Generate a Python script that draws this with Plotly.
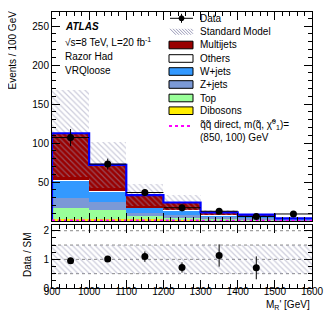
import plotly.graph_objects as go

# ---------------- data ----------------
bin_lo = [900, 1000, 1100, 1200, 1300, 1400, 1500]
bin_hi = [1000, 1100, 1200, 1300, 1400, 1500, 1600]
multijets = [60.0, 34.0, 16.0, 10.0, 3.3, 1.2, 0.3]
others = [0.5, 0.4, 0.3, 0.2, 0.1, 0.1, 0.05]
wjets = [22.5, 13.0, 7.0, 6.3, 2.2, 2.3, 1.0]
zjets = [13.0, 10.0, 3.0, 3.0, 2.1, 2.0, 1.0]
top = [14.0, 12.0, 5.0, 2.7, 2.1, 1.5, 0.6]
dibosons = [2.5, 2.5, 2.0, 1.5, 1.2, 1.0, 0.5]
sm_err = [55.5, 30.0, 14.7, 9.3, 3.0, 1.4, 1.0]
data = [107.0, 73.0, 36.5, 17.0, 12.5, 5.7, 9.0]
data_err = [11.0, 7.0, 4.5, 4.5, 3.5, 2.5, 3.0]
ratio_err = [0.10, 0.10, 0.18, 0.18, 0.39, 0.40, 0.40]
signal = [0.8, 0.7, 0.6, 0.5, 0.4, 0.3, 0.3]
ratio_band = [0.5] * 7
xticks = [900, 1000, 1100, 1200, 1300, 1400, 1500, 1600]

centers = [(a + b) / 2 for a, b in zip(bin_lo, bin_hi)]
widths = [b - a for a, b in zip(bin_lo, bin_hi)]

FONT = "Liberation Sans, Arial, Helvetica, sans-serif"
OFF = 8  # page body margin
W, H = 332 - OFF, 319 - OFF
L, T = 52 - OFF, 12 - OFF
R = W - (312 - OFF)
B = H - (288 - OFF)
PW, PH = W - L - R, H - T - B


def px(x):
    return (x - OFF - L) / PW


def py(y):
    return (H - B - (y - OFF)) / PH


fig = go.Figure()

# stacked components: bottom -> top
stack = [
    ("Dibosons", dibosons, "#ffee00"),
    ("Top", top, "#99ff99"),
    ("Z+jets", zjets, "#7b99d6"),
    ("W+jets", wjets, "#3399ff"),
    ("Others", others, "#ffffff"),
    ("Multijets", multijets, "#990000"),
]
cum = [0.0] * 7
for name, vals, col in stack:
    fig.add_trace(go.Bar(x=centers, y=vals, base=list(cum), width=widths,
                         marker=dict(color=col, line=dict(width=0)),
                         name=name, showlegend=False, xaxis="x", yaxis="y"))
    cum = [c + v for c, v in zip(cum, vals)]
sm = cum

hatch = dict(shape="\\", fgcolor="#9a9ab8", bgcolor="rgba(0,0,0,0)", size=4,
             solidity=0.3, fillmode="overlay")

# hatched SM uncertainty
fig.add_trace(go.Bar(x=centers, y=[2 * e for e in sm_err],
                     base=[s - e for s, e in zip(sm, sm_err)], width=widths,
                     marker=dict(color="rgba(0,0,0,0)", line=dict(width=0), pattern=hatch),
                     showlegend=False, xaxis="x", yaxis="y"))

# SM outline
step_x = [bin_lo[0]] + bin_lo + [bin_hi[-1]]
step_y = [0.0] + sm + [sm[-1]]
fig.add_trace(go.Scatter(x=step_x, y=step_y, mode="lines", line_shape="hv",
                         line=dict(color="#0000ff", width=2.2),
                         showlegend=False, xaxis="x", yaxis="y"))

# signal
fig.add_trace(go.Scatter(x=bin_lo + [bin_hi[-1]],
                         y=signal + [signal[-1]], mode="lines", line_shape="hv",
                         line=dict(color="#ff00ff", width=2, dash="dot"),
                         showlegend=False, xaxis="x", yaxis="y"))

# data
fig.add_trace(go.Scatter(x=centers, y=data, mode="markers",
                         marker=dict(color="black", size=7),
                         error_x=dict(type="data", array=[w / 2 for w in widths],
                                      color="black", width=0, thickness=1),
                         error_y=dict(type="data", array=data_err, color="black",
                                      width=0, thickness=1),
                         showlegend=False, xaxis="x", yaxis="y"))

# ratio band
fig.add_trace(go.Bar(x=centers, y=[2 * b for b in ratio_band],
                     base=[1 - b for b in ratio_band], width=widths,
                     marker=dict(color="rgba(0,0,0,0)", line=dict(width=0), pattern=hatch),
                     showlegend=False, xaxis="x2", yaxis="y2"))

ratio = [d / s for d, s in zip(data, sm)]
fig.add_trace(go.Scatter(x=centers, y=ratio, mode="markers",
                         marker=dict(color="black", size=7),
                         error_y=dict(type="data", array=ratio_err, color="black",
                                      width=0, thickness=1),
                         showlegend=False, xaxis="x2", yaxis="y2"))

shapes = []
for g in [0.5, 1.0, 1.5, 2.0]:
    shapes.append(dict(type="line", xref="x2 domain", yref="y2", x0=0, x1=1,
                       y0=g, y1=g, line=dict(color="#888888", width=1, dash="dot"),
                       layer="below"))

# ---- legend (manual) ----
bx0, bx1 = px(169), px(193)
rows = [18.3, 31.8, 45.0, 58.5, 71.5, 84.5, 98.0, 110.7, 124.5]
labels = ["Data", "Standard Model", "Multijets", "Others", "W+jets", "Z+jets",
          "Top", "Dibosons",
          "q\u0303q\u0303 direct, m(q\u0303, \u03c7\u0303<sup>0</sup><sub>1</sub>)="]
# data symbol
shapes.append(dict(type="line", xref="paper", yref="paper", x0=px(170), x1=px(193),
                   y0=py(rows[0]), y1=py(rows[0]), line=dict(color="black", width=1)))
shapes.append(dict(type="line", xref="paper", yref="paper", x0=px(181.5), x1=px(181.5),
                   y0=py(rows[0] - 4.5), y1=py(rows[0] + 4.5), line=dict(color="black", width=1)))
shapes.append(dict(type="circle", xref="paper", yref="paper", x0=px(179), x1=px(184),
                   y0=py(rows[0] - 2.5), y1=py(rows[0] + 2.5), fillcolor="black",
                   line=dict(color="black", width=1)))
# SM hatch symbol
for k in range(8):
    xs = 170 + 3 * k
    xe = min(xs + 6, 193)
    shapes.append(dict(type="line", xref="paper", yref="paper",
                       x0=px(xs), x1=px(xe),
                       y0=py(rows[1] - 3), y1=py(rows[1] - 3 + (xe - xs)),
                       line=dict(color="#9a9ab8", width=1)))
# boxes
box_cols = ["#990000", "#ffffff", "#3399ff", "#7b99d6", "#99ff99", "#ffee00"]
for i, c in enumerate(box_cols):
    yc = rows[2 + i]
    shapes.append(dict(type="rect", xref="paper", yref="paper", x0=bx0, x1=bx1,
                       y0=py(yc + 3.8), y1=py(yc - 3.8), fillcolor=c,
                       line=dict(color="black", width=1)))
# signal symbol
shapes.append(dict(type="line", xref="paper", yref="paper", x0=px(169), x1=px(190),
                   y0=py(126), y1=py(126), line=dict(color="#ff00ff", width=2, dash="dot")))

annotations = []
tf = dict(family=FONT, size=10, color="black")
for r, t in zip(rows, labels):
    annotations.append(dict(text=t, xref="paper", yref="paper", x=px(198), y=py(r),
                            xanchor="left", yanchor="middle", showarrow=False, font=tf))
annotations.append(dict(text="(850, 100) GeV", xref="paper", yref="paper", x=px(198),
                        y=py(137.5), xanchor="left", yanchor="middle", showarrow=False,
                        font=tf))

# ATLAS labels
annotations.append(dict(text="<b><i>ATLAS</i></b>", xref="paper", yref="paper", x=px(63),
                        y=py(26.3), xanchor="left", yanchor="middle", showarrow=False,
                        font=tf))
for txt, yy in [("\u221As=8 TeV, L=20 fb<sup>-1</sup>", 41.5), ("Razor Had", 56.0),
                ("VRQloose", 71.0)]:
    annotations.append(dict(text=txt, xref="paper", yref="paper", x=px(63), y=py(yy),
                            xanchor="left", yanchor="middle", showarrow=False, font=tf))

# axis titles
annotations.append(dict(text="Events / 100 GeV", xref="paper", yref="paper", x=px(12.5),
                        y=py(50), xanchor="center", yanchor="middle", textangle=-90,
                        showarrow=False, font=tf))
annotations.append(dict(text="Data / SM", xref="paper", yref="paper", x=px(27),
                        y=py(255), xanchor="center", yanchor="middle", textangle=-90,
                        showarrow=False, font=tf))
annotations.append(dict(text="M<sub>R</sub>' [GeV]", xref="paper", yref="paper", x=px(312),
                        y=py(305), xanchor="right", yanchor="middle",
                        showarrow=False, font=tf))

axis_common = dict(showline=True, linecolor="black", linewidth=1, mirror="ticks",
                   ticks="inside", ticklen=8, tickcolor="black", showgrid=False,
                   zeroline=False, tickfont=tf)

main_bottom = py(221)
ratio_top = py(225)

fig.update_layout(
    width=W, height=H, margin=dict(l=L, r=R, t=T, b=B),
    paper_bgcolor="white", plot_bgcolor="white", barmode="overlay", bargap=0,
    showlegend=False,
    xaxis=dict(domain=[0, 1], range=[900, 1600], anchor="y", showticklabels=False,
               tickvals=xticks, minor=dict(tickmode="linear", tick0=900, dtick=20,
                                           ticklen=4, tickcolor="black", ticks="inside"),
               **axis_common),
    yaxis=dict(domain=[main_bottom, 1], range=[0, 268], anchor="x",
               tickvals=[50, 100, 150, 200, 250],
               minor=dict(tickmode="linear", tick0=0, dtick=10, ticklen=4,
                          tickcolor="black", ticks="inside"),
               **axis_common),
    xaxis2=dict(domain=[0, 1], range=[900, 1600], anchor="y2", matches="x",
                tickvals=xticks, ticklabelstandoff=-6,
                minor=dict(tickmode="linear", tick0=900, dtick=20, ticklen=4,
                           tickcolor="black", ticks="inside"),
                **axis_common),
    yaxis2=dict(domain=[0, ratio_top], range=[0, 2.2], anchor="x2",
                tickvals=[0, 1, 2],
                minor=dict(tickmode="linear", tick0=0, dtick=0.25, ticklen=4,
                           tickcolor="black", ticks="inside"),
                **axis_common),
    shapes=shapes, annotations=annotations,
)

fig.write_html("out.html")
